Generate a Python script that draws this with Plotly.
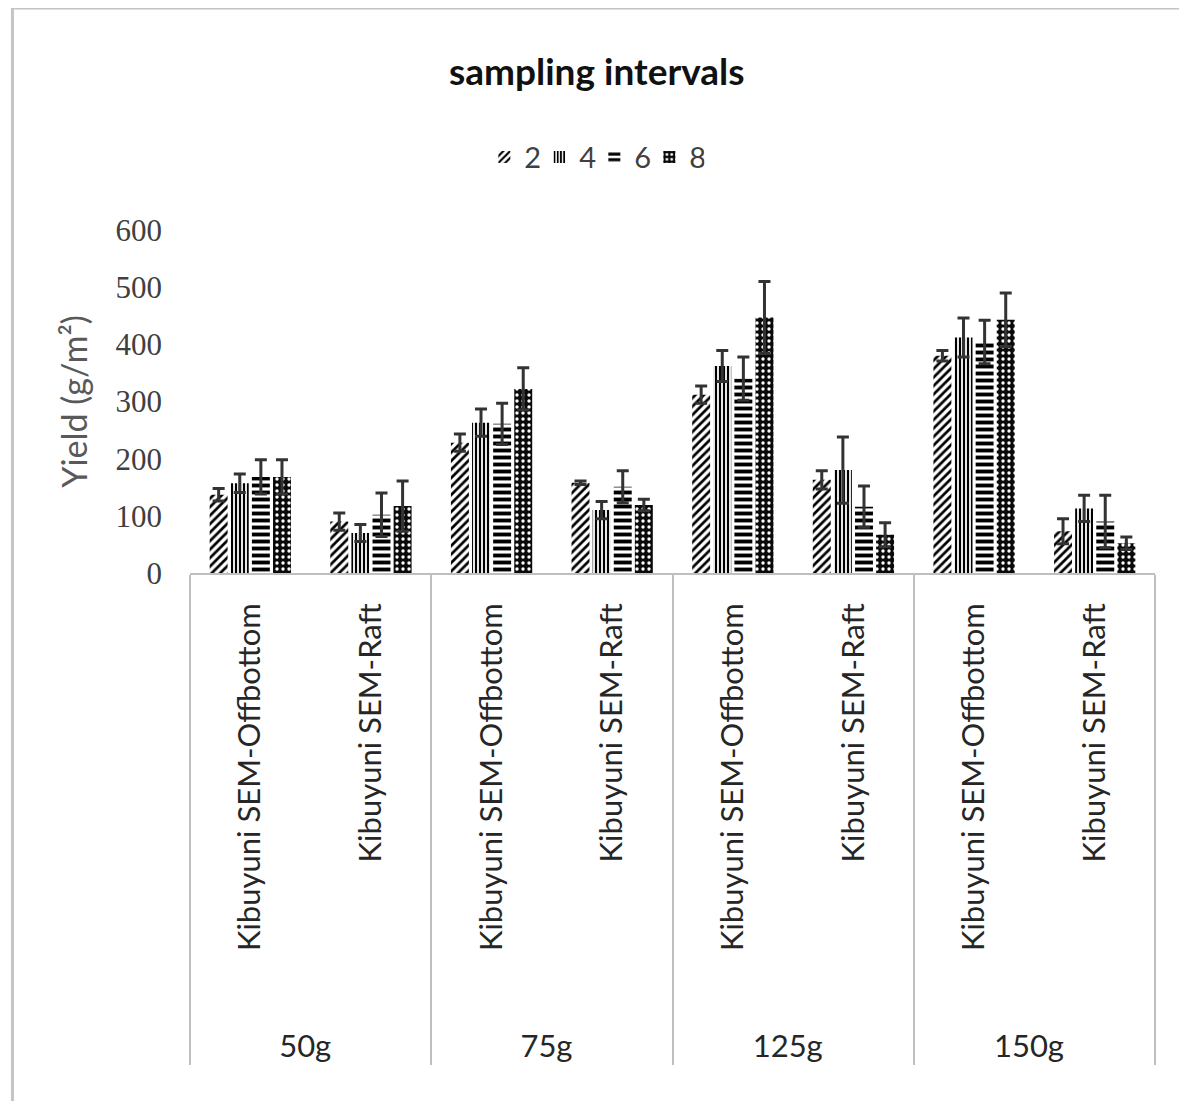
import plotly.graph_objects as go

groups = ["50g", "75g", "125g", "150g"]
systems = ["Kibuyuni SEM-Offbottom", "Kibuyuni SEM-Raft"]
series_names = ["2", "4", "6", "8"]

# values per series, order: 50g Off, 50g Raft, 75g Off, 75g Raft, 125g Off, 125g Raft, 150g Off, 150g Raft
y_2 = [137, 90, 228, 158, 312, 163, 380, 73]
y_4 = [157, 70, 263, 110, 362, 180, 412, 113]
y_6 = [168, 102, 261, 151, 340, 116, 404, 90]
y_8 = [168, 117, 322, 119, 447, 67, 443, 52]

err_2 = [11, 15, 15, 3, 15, 16, 9, 22]
err_4 = [16, 15, 24, 15, 27, 58, 34, 23]
err_6 = [30, 38, 36, 28, 38, 36, 38, 46]
err_8 = [30, 44, 37, 10, 63, 21, 47, 11]

y_ticks = [0, 100, 200, 300, 400, 500, 600]

NB = "\u00a0"
x_outer = [g for g in groups for _ in systems]
# non-breaking spaces pad the rotated labels so the layout depth matches the original
x_inner = [NB * 6 + s + NB * 2 for _ in groups for s in systems]

patterns = [
    dict(shape="/", bgcolor="white", fgcolor="#000000", fgopacity=1, size=6, solidity=0.45),
    dict(shape="|", bgcolor="white", fgcolor="#000000", fgopacity=1, size=4, solidity=0.55),
    dict(shape="-", bgcolor="white", fgcolor="#000000", fgopacity=1, size=7, solidity=0.55),
    dict(shape=".", bgcolor="#0a0a0a", fgcolor="white", fgopacity=1, size=6, solidity=0.25),
]

fig = go.Figure()
for name, ys, es, pat in zip(series_names, [y_2, y_4, y_6, y_8],
                             [err_2, err_4, err_6, err_8], patterns):
    fig.add_trace(go.Bar(
        name=name,
        x=[x_outer, x_inner],
        y=ys,
        marker=dict(color="white", line=dict(width=0), pattern=pat),
        error_y=dict(type="data", array=es, visible=True, color="#333333",
                     thickness=3, width=6),
    ))

fig.update_layout(
    width=1187, height=1101,
    paper_bgcolor="white", plot_bgcolor="white",
    margin=dict(l=182, r=40, t=222, b=536),
    barmode="group", bargap=0.3, bargroupgap=0.15,
    title=dict(text="<b>sampling intervals</b>", xref="container", x=0.496,
               xanchor="center", yref="container", y=0.9419, yanchor="middle",
               font=dict(family="Lato", size=37, color="#111111")),
    legend=dict(orientation="h", xref="paper", x=0.419, xanchor="center",
                yref="container", y=0.8646, yanchor="middle",
                font=dict(family="Lato", size=29, color="#404040"),
                itemwidth=30, tracegroupgap=0, entrywidth=10, entrywidthmode="pixels"),
    showlegend=True,
    font=dict(family="Lato", color="#262626"),
)

fig.update_yaxes(
    range=[0, 600], tickvals=y_ticks, showgrid=False, zeroline=False,
    showline=False, ticks="",
    tickfont=dict(family="Liberation Serif", size=31, color="#404040"),
    ticklabelstandoff=27,
    title=dict(text="Yield (g/m²)", font=dict(family="Lato", size=34, color="#595959"),
               standoff=17),
)

fig.update_xaxes(
    type="multicategory", showline=True, linecolor="#bfbfbf", linewidth=2,
    showgrid=False, ticks="", tickangle=-90,
    showdividers=True, dividercolor="#bfbfbf", dividerwidth=2,
    tickfont=dict(family="Lato", size=31, color="#262626"),
)

# chart-area frame (left, top strong; right faint)
fig.add_shape(type="line", xref="paper", yref="paper",
              x0=-0.184, x1=-0.184, y0=-1.6, y1=1.647,
              line=dict(color="#c4c4c4", width=3), layer="below")
fig.add_shape(type="line", xref="paper", yref="paper",
              x0=-0.184, x1=1.04, y0=1.647, y1=1.647,
              line=dict(color="#c4c4c4", width=3), layer="below")
fig.add_shape(type="line", xref="paper", yref="paper",
              x0=1.0285, x1=1.0285, y0=-1.6, y1=1.647,
              line=dict(color="#ececec", width=2), layer="below")

fig.write_html("out.html")
